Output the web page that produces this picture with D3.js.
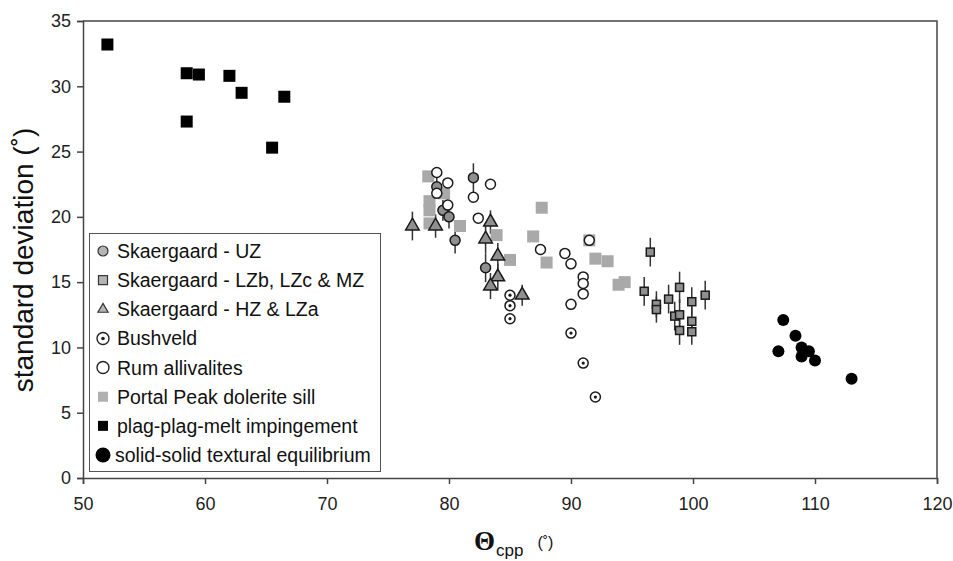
<!DOCTYPE html>
<html>
<head>
<meta charset="utf-8">
<script src="https://cdn.jsdelivr.net/npm/d3@7"></script>
<style>
  body { margin: 0; background: #fff; }
  svg { display: block; font-family: 'Liberation Sans', Arial, sans-serif; }
</style>
</head>
<body>
<div id="chart"></div>
<script>
// data: [theta, std dev, error]
const skaergaardUZ = [[79.0, 22.3, 0.8], [82.0, 23.0, 1.1], [79.5, 20.5, 0.8], [80.0, 20.0, 0.9], [80.5, 18.2, 1.0], [83.0, 16.1, 1.1]]
const skaergaardLZ = [[96.5, 17.3, 1.1], [96.0, 14.3, 1.1], [97.0, 13.3, 1.0], [97.0, 12.9, 1.0], [98.0, 13.7, 1.1], [98.5, 12.4, 1.1],
  [98.9, 14.6, 1.2], [98.9, 12.5, 1.2], [98.9, 11.3, 1.1], [99.9, 13.5, 1.1], [99.9, 12.0, 1.1], [99.9, 11.2, 1.0], [101.0, 14.0, 1.1]]
const skaergaardHZ = [[77.0, 19.3, 1.1], [78.9, 19.3, 0.9], [83.4, 19.6, 0.9], [83.0, 18.3, 1.1], [84.0, 17.0, 1.0], [84.0, 15.4, 1.0],
  [83.4, 14.7, 1.0], [86.0, 14.0, 0.8]]
const bushveld = [[85.0, 14.0], [85.0, 13.2], [85.0, 12.2], [90.0, 11.1], [91.0, 8.8], [92.0, 6.2]]
const rum = [[79.0, 23.4], [79.9, 22.6], [79.0, 21.8], [79.9, 20.9], [82.0, 21.5], [83.4, 22.5], [82.4, 19.9], [87.5, 17.5],
  [89.5, 17.2], [90.0, 16.4], [91.0, 15.4], [91.0, 14.9], [91.0, 14.1], [90.0, 13.3], [91.5, 18.2]]
const portalPeak = [[78.3, 23.1], [78.4, 21.2], [78.4, 20.5], [78.4, 19.5], [79.6, 21.8], [80.9, 19.3], [83.9, 18.6], [85.0, 16.7],
  [86.9, 18.5], [87.6, 20.7], [88.0, 16.5], [91.5, 18.2], [92.0, 16.8], [93.0, 16.6], [93.9, 14.8], [94.4, 15.0]]
const impingement = [[52.0, 33.2], [58.5, 31.0], [59.5, 30.9], [62.0, 30.8], [63.0, 29.5], [66.5, 29.2], [58.5, 27.3], [65.5, 25.3]]
const equilibrium = [[107.4, 12.1], [108.4, 10.9], [107.0, 9.7], [108.9, 10.0], [109.5, 9.7], [108.9, 9.3], [110.0, 9.0], [113.0, 7.6]]

const xTicks = [50, 60, 70, 80, 90, 100, 110, 120]
const yTicks = [0, 5, 10, 15, 20, 25, 30, 35]
const legendLabels = ['Skaergaard - UZ', 'Skaergaard - LZb, LZc & MZ', 'Skaergaard - HZ & LZa', 'Bushveld',
  'Rum allivalites', 'Portal Peak dolerite sill', 'plag-plag-melt impingement', 'solid-solid textural equilibrium']

const width = 953
const height = 561
const margin = { top: 21, right: 16, bottom: 83, left: 83 }
const axisColor = '#444'
const markStroke = '#1a1a1a'

const svg = d3.select('#chart').append('svg')
  .attr('width', width)
  .attr('height', height)

const x = d3.scaleLinear().domain([50, 120]).range([margin.left, width - margin.right])
const y = d3.scaleLinear().domain([0, 35]).range([height - margin.bottom, margin.top])

// frame (top and right)
svg.append('path')
  .attr('d', `M${x(50)},${y(35)}H${x(120)}V${y(0)}`)
  .attr('fill', 'none')
  .attr('stroke', axisColor)
  .attr('stroke-width', 1.5)

// axes
const xAxis = svg.append('g')
  .attr('transform', `translate(0,${y(0)})`)
  .call(d3.axisBottom(x).tickValues(xTicks).tickSize(6).tickPadding(13))
const yAxis = svg.append('g')
  .attr('transform', `translate(${x(50)},0)`)
  .call(d3.axisLeft(y).tickValues(yTicks).tickSize(6).tickPadding(6))

;[xAxis, yAxis].forEach(a => {
  a.select('.domain').attr('stroke', axisColor).attr('stroke-width', 1.5)
  a.selectAll('.tick line').attr('stroke', axisColor).attr('stroke-width', 1.5)
  a.selectAll('.tick text').attr('font-size', 18).attr('fill', '#222')
    .attr('font-family', "'Liberation Sans', Arial, sans-serif")
})

// axis titles
svg.append('text')
  .attr('transform', `translate(33,260) rotate(-90)`)
  .attr('text-anchor', 'middle')
  .attr('font-size', 28)
  .attr('fill', '#111')
  .text('standard deviation (˚)')

const xt = svg.append('text')
  .attr('x', 474)
  .attr('y', 550)
  .attr('fill', '#111')
xt.append('tspan').attr('font-size', 27).attr('font-weight', 'bold')
  .attr('font-family', "'Liberation Serif', 'Times New Roman', serif").text('Θ')
xt.append('tspan').attr('font-size', 17).attr('dy', 6).attr('dx', 1).text('cpp')
xt.append('tspan').attr('font-size', 16).attr('dy', -8).attr('dx', 14).text('(˚)')

// error bars
const plot = svg.append('g')
const withErrors = skaergaardHZ.concat(skaergaardLZ, skaergaardUZ)
plot.append('g')
  .selectAll('line')
  .data(withErrors)
  .join('line')
  .attr('x1', d => x(d[0]))
  .attr('x2', d => x(d[0]))
  .attr('y1', d => y(d[1] - d[2]))
  .attr('y2', d => y(d[1] + d[2]))
  .attr('stroke', '#333')
  .attr('stroke-width', 1.5)

// marker drawing helpers
function squares(data, side, fill, stroke, sw) {
  plot.append('g')
    .selectAll('rect')
    .data(data)
    .join('rect')
    .attr('x', d => x(d[0]) - side / 2)
    .attr('y', d => y(d[1]) - side / 2)
    .attr('width', side)
    .attr('height', side)
    .attr('fill', fill)
    .attr('stroke', stroke)
    .attr('stroke-width', sw)
}

function circles(data, r, fill, stroke, sw) {
  plot.append('g')
    .selectAll('circle')
    .data(data)
    .join('circle')
    .attr('cx', d => x(d[0]))
    .attr('cy', d => y(d[1]))
    .attr('r', r)
    .attr('fill', fill)
    .attr('stroke', stroke)
    .attr('stroke-width', sw)
}

squares(portalPeak, 12, '#a9a9a9', 'none', 0)
squares(impingement, 12, '#000', 'none', 0)
circles(equilibrium, 6, '#000', 'none', 0)

plot.append('g')
  .selectAll('path')
  .data(skaergaardHZ)
  .join('path')
  .attr('transform', d => `translate(${x(d[0])},${y(d[1])})`)
  .attr('d', d3.symbol(d3.symbolTriangle, 80))
  .attr('fill', '#8f8f8f')
  .attr('stroke', markStroke)
  .attr('stroke-width', 1.5)

squares(skaergaardLZ, 8, '#8f8f8f', markStroke, 1.5)
circles(skaergaardUZ, 5, '#8f8f8f', markStroke, 1.5)
circles(rum, 5, '#fff', markStroke, 1.5)
circles(bushveld, 5, '#fff', markStroke, 1.5)
circles(bushveld, 1.6, markStroke, 'none', 0)

// legend
const legend = svg.append('g')
legend.append('rect')
  .attr('x', 89.5).attr('y', 233.5)
  .attr('width', 291).attr('height', 238)
  .attr('fill', '#fff')
  .attr('stroke', '#555')
  .attr('stroke-width', 1)

const rowY = d3.scalePoint().domain(legendLabels).range([251, 455])
const sx = 103
const icon = legend.selectAll('g.item')
  .data(legendLabels)
  .join('g')
  .attr('class', 'item')
  .attr('transform', d => `translate(${sx},${rowY(d)})`)

icon.each(function(d, i) {
  const g = d3.select(this)
  if (i === 0) g.append('circle').attr('r', 5).attr('fill', '#b5b5b5').attr('stroke', '#333').attr('stroke-width', 1.2)
  if (i === 1) g.append('rect').attr('x', -4.5).attr('y', -4.5).attr('width', 9).attr('height', 9)
    .attr('fill', '#b5b5b5').attr('stroke', '#333').attr('stroke-width', 1.2)
  if (i === 2) g.append('path').attr('d', d3.symbol(d3.symbolTriangle, 45)).attr('fill', '#b5b5b5')
    .attr('stroke', '#333').attr('stroke-width', 1.2)
  if (i === 3) {
    g.append('circle').attr('r', 6).attr('fill', '#fff').attr('stroke', '#222').attr('stroke-width', 1.4)
    g.append('circle').attr('r', 1.8).attr('fill', '#222')
  }
  if (i === 4) g.append('circle').attr('r', 6).attr('fill', '#fff').attr('stroke', '#222').attr('stroke-width', 1.4)
  if (i === 5) g.append('rect').attr('x', -5).attr('y', -5).attr('width', 10).attr('height', 10).attr('fill', '#b0b0b0')
  if (i === 6) g.append('rect').attr('x', -5).attr('y', -5).attr('width', 10).attr('height', 10).attr('fill', '#000')
  if (i === 7) g.append('circle').attr('r', 7.5).attr('fill', '#000')
})

legend.selectAll('text')
  .data(legendLabels)
  .join('text')
  .attr('x', (d, i) => i === 7 ? 115 : 117)
  .attr('y', d => rowY(d) + 7)
  .attr('font-size', 19.5)
  .attr('fill', '#111')
  .text(d => d)
</script>
</body>
</html>
